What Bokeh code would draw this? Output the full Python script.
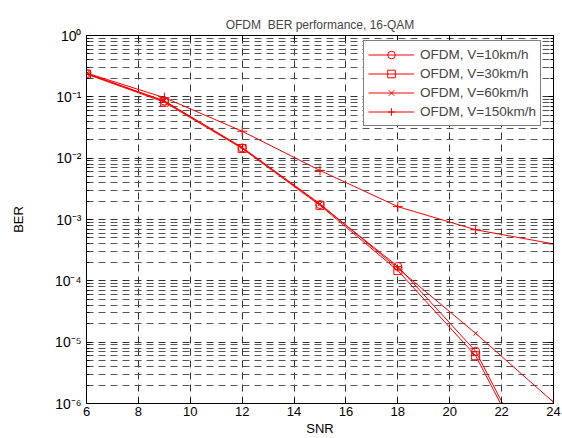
from bokeh.plotting import figure
from bokeh.models import (Range1d, FixedTicker, CustomJSTickFormatter, LogAxis,
                          LinearAxis, Legend, LegendItem)
from bokeh.embed import file_html
from bokeh.resources import INLINE

# ---- data ----
snr = [6, 9, 12, 15, 18, 21, 24]
ber_v10 = [0.24, 0.085, 0.0147, 1.75e-3, 1.72e-4, 7.1e-6, 2.5e-8]
ber_v30 = [0.235, 0.082, 0.0144, 1.70e-3, 1.47e-4, 6.0e-6, 2.2e-8]
ber_v60 = [0.24, 0.086, 0.0150, 1.80e-3, 1.60e-4, 1.39e-5, 1.05e-6]
ber_v150 = [0.245, 0.097, 0.0275, 6.3e-3, 1.62e-3, 6.8e-4, 4.0e-4]
series_labels = ["OFDM, V=10km/h", "OFDM, V=30km/h", "OFDM, V=60km/h", "OFDM, V=150km/h"]
series_markers = ["circle", "square", "x", "cross"]
marker_sizes = [8, 8, 6, 10]
x_ticks = [6, 8, 10, 12, 14, 16, 18, 20, 22, 24]
y_exponents = [-6, -5, -4, -3, -2, -1, 0]

y_ticks = [10.0 ** e for e in y_exponents]
y_minor = [k * 10.0 ** e for e in y_exponents[:-1] for k in range(2, 10)]

FONT = "Liberation Sans"
RED = "#ff0000"

p = figure(width=562, height=438, output_backend="svg", toolbar_location=None,
           y_axis_type="log", x_range=Range1d(6, 24), y_range=Range1d(1e-6, 1),
           title="OFDM\u00a0 BER performance, 16-QAM",
           min_border_left=86, min_border_right=9, min_border_top=35, min_border_bottom=35)
p.background_fill_color = "white"
p.border_fill_color = "white"
p.outline_line_color = "black"
p.outline_line_width = 1

p.title.align = "center"
p.title.text_font = FONT
p.title.text_font_size = "12px"
p.title.text_font_style = "normal"
p.title.standoff = 8

# axes
xt = FixedTicker(ticks=x_ticks, minor_ticks=[])
yt = FixedTicker(ticks=y_ticks, minor_ticks=y_minor)
p.xaxis.ticker = xt
p.yaxis.ticker = yt
sup_fmt = CustomJSTickFormatter(code="""
const sup = {"-":"\u207b","0":"\u2070","1":"\u00b9","2":"\u00b2","3":"\u00b3","4":"\u2074",
             "5":"\u2075","6":"\u2076","7":"\u2077","8":"\u2078","9":"\u2079"};
const e = Math.round(Math.log10(tick));
return "10" + String(e).split("").map(c => sup[c]).join("");
""")
p.yaxis.formatter = sup_fmt
p.xaxis.axis_label = "SNR"
p.yaxis.axis_label = "BER"

for ax in (p.xaxis[0], p.yaxis[0]):
    ax.axis_line_color = "black"
    ax.major_tick_in = 5
    ax.major_tick_out = 0
    ax.minor_tick_in = 3
    ax.minor_tick_out = 0
    ax.major_tick_line_color = "black"
    ax.minor_tick_line_color = "black"
    ax.major_label_text_font = FONT
    ax.major_label_text_font_size = "13px"
    ax.major_label_text_color = "black"
    ax.axis_label_text_font = FONT
    ax.axis_label_text_font_size = "13px"
    ax.axis_label_text_font_style = "normal"
    ax.axis_label_text_color = "black"
p.yaxis.major_label_text_font_size = "14px"
p.xaxis.major_label_standoff = 3
p.xaxis.axis_label_standoff = 2
p.yaxis.major_label_standoff = 5
p.yaxis.axis_label_standoff = 26

# mirror ticks on right and top (no labels)
right_ax = LogAxis(ticker=yt, major_tick_in=5, major_tick_out=0, minor_tick_in=3, minor_tick_out=0,
                   major_label_text_font_size="0px", major_label_standoff=0,
                   formatter=CustomJSTickFormatter(code="return '';"))
top_ax = LinearAxis(ticker=xt, major_tick_in=5, major_tick_out=0, minor_tick_out=0,
                    major_label_text_font_size="0px", major_label_standoff=0,
                    formatter=CustomJSTickFormatter(code="return '';"))
p.add_layout(right_ax, "right")
p.add_layout(top_ax, "above")

# grids
for g in (p.xgrid[0], p.ygrid[0]):
    g.grid_line_color = "#333333"
    g.grid_line_dash = "7 5"
    g.grid_line_width = 1
p.ygrid.minor_grid_line_color = "#555555"
p.ygrid.minor_grid_line_dash = "7 5"
p.ygrid.minor_grid_line_width = 1

items = []
for ys, lab, mk, ms in zip([ber_v10, ber_v30, ber_v60, ber_v150], series_labels,
                           series_markers, marker_sizes):
    r1 = p.line(snr, ys, line_color=RED, line_width=1)
    r2 = p.scatter(snr, ys, marker=mk, size=ms, line_color=RED, fill_color=None, line_width=1)
    items.append(LegendItem(label=lab, renderers=[r1, r2]))

legend = Legend(items=items, location=(277, 277))
legend.margin = 0
legend.padding = 4
legend.spacing = 0
legend.glyph_width = 46
legend.glyph_height = 19
legend.label_height = 19
legend.label_standoff = 6
legend.label_text_font = FONT
legend.label_text_font_size = "13.5px"
legend.border_line_color = "black"
legend.border_line_width = 1
legend.background_fill_color = "white"
legend.background_fill_alpha = 1
p.add_layout(legend)

open("out.html", "w").write(file_html(p, INLINE))
